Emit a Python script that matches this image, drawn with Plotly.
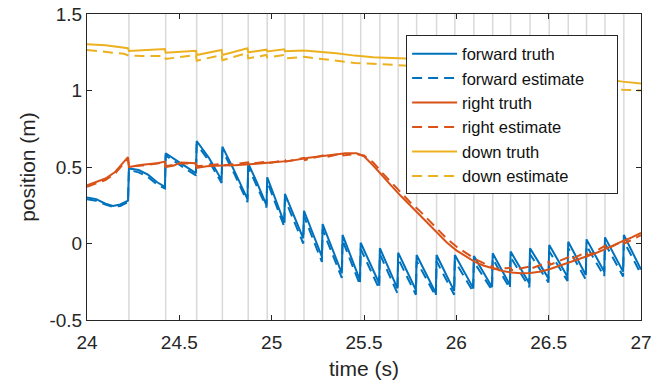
import plotly.graph_objects as go

# measurement update times (gray vertical lines)
meas_times = [24.227, 24.426, 24.594, 24.733, 24.873, 24.976, 25.072, 25.175, 25.276,
              25.384, 25.482, 25.586, 25.685, 25.785, 25.893, 25.992, 26.095, 26.197,
              26.294, 26.399, 26.503, 26.606, 26.705, 26.805, 26.907]

fwd_truth_t = [24.00, 24.05, 24.10, 24.14, 24.18, 24.222, 24.227, 24.28, 24.33, 24.38, 24.422,
               24.426, 24.50, 24.59, 24.594, 24.66, 24.729, 24.733, 24.80, 24.869, 24.873,
               24.92, 24.972, 24.976, 25.068, 25.072, 25.171, 25.175, 25.272, 25.276, 25.380,
               25.384, 25.478, 25.482, 25.582, 25.586, 25.681, 25.685, 25.781, 25.785, 25.889,
               25.893, 25.988, 25.992, 26.091, 26.095, 26.193, 26.197, 26.290, 26.294, 26.395,
               26.399, 26.499, 26.503, 26.602, 26.606, 26.701, 26.705, 26.801, 26.805, 26.903,
               26.907, 27.00]
fwd_truth_v = [0.30, 0.29, 0.26, 0.245, 0.255, 0.28, 0.49, 0.48, 0.45, 0.40, 0.37,
               0.59, 0.53, 0.46, 0.67, 0.56, 0.415, 0.633, 0.47, 0.29, 0.524,
               0.40, 0.25, 0.433, 0.136, 0.324, 0.034, 0.214, -0.086, 0.127, -0.195,
               0.056, -0.239, 0.005, -0.26, -0.031, -0.293, -0.06, -0.304, -0.075, -0.325,
               -0.075, -0.31, -0.075, -0.29, -0.082, -0.285, -0.064, -0.271, -0.053, -0.26,
               -0.031, -0.228, -0.01, -0.217, 0.012, -0.206, 0.027, -0.184, 0.04, -0.184,
               0.056, -0.17]

fwd_est_t = fwd_truth_t
fwd_est_v = [0.29, 0.28, 0.255, 0.24, 0.245, 0.27, 0.48, 0.465, 0.435, 0.385, 0.36,
             0.575, 0.515, 0.445, 0.65, 0.54, 0.395, 0.61, 0.45, 0.27, 0.50,
             0.375, 0.235, 0.405, 0.11, 0.29, 0.0, 0.18, -0.12, 0.09, -0.225,
             0.02, -0.27, -0.035, -0.295, -0.07, -0.325, -0.10, -0.335, -0.115, -0.345,
             -0.115, -0.335, -0.115, -0.315, -0.12, -0.305, -0.10, -0.295, -0.09, -0.285,
             -0.07, -0.255, -0.05, -0.245, -0.03, -0.235, -0.015, -0.215, 0.0, -0.215,
             0.015, -0.20]

right_truth_t = [24.00, 24.05, 24.10, 24.15, 24.19, 24.222, 24.227, 24.30, 24.38, 24.422,
                 24.426, 24.47, 24.51, 24.590, 24.594, 24.65, 24.73, 24.80, 24.90, 25.00,
                 25.10, 25.20, 25.30, 25.40, 25.46, 25.50, 25.55, 25.60, 25.65, 25.70,
                 25.75, 25.80, 25.85, 25.90, 25.95, 26.00, 26.05, 26.10, 26.15, 26.20,
                 26.25, 26.30, 26.35, 26.40, 26.45, 26.50, 26.55, 26.60, 26.65, 26.70,
                 26.75, 26.80, 26.85, 26.90, 26.95, 27.00]
right_truth_v = [0.38, 0.40, 0.425, 0.465, 0.52, 0.565, 0.50, 0.515, 0.525, 0.535,
                 0.50, 0.51, 0.53, 0.525, 0.495, 0.505, 0.51, 0.512, 0.52, 0.53,
                 0.54, 0.56, 0.575, 0.59, 0.59, 0.57, 0.51, 0.44, 0.375, 0.31,
                 0.25, 0.19, 0.13, 0.065, 0.005, -0.045, -0.085, -0.12, -0.145, -0.165,
                 -0.18, -0.19, -0.195, -0.193, -0.185, -0.17, -0.15, -0.13, -0.11, -0.09,
                 -0.065, -0.04, -0.01, 0.015, 0.04, 0.07]

right_est_t = [24.00, 24.05, 24.10, 24.15, 24.19, 24.222, 24.227, 24.30, 24.422, 24.426,
               24.51, 24.590, 24.594, 24.73, 24.733, 24.873, 24.876, 24.976, 24.98, 25.072,
               25.075, 25.175, 25.18, 25.276, 25.28, 25.384, 25.388, 25.46, 25.50, 25.55,
               25.60, 25.65, 25.70, 25.75, 25.80, 25.85, 25.90, 25.95, 26.00, 26.05,
               26.10, 26.15, 26.197, 26.20, 26.25, 26.294, 26.30, 26.399, 26.40, 26.503,
               26.506, 26.606, 26.61, 26.705, 26.71, 26.805, 26.81, 26.907, 26.91, 27.00]
right_est_v = [0.37, 0.39, 0.415, 0.455, 0.51, 0.555, 0.505, 0.51, 0.53, 0.505,
               0.525, 0.52, 0.505, 0.52, 0.51, 0.53, 0.52, 0.535, 0.525, 0.545,
               0.535, 0.56, 0.545, 0.575, 0.56, 0.59, 0.575, 0.585, 0.575, 0.53,
               0.46, 0.395, 0.33, 0.27, 0.215, 0.155, 0.09, 0.03, -0.02, -0.06,
               -0.10, -0.13, -0.15, -0.165, -0.16, -0.16, -0.175, -0.15, -0.165, -0.12,
               -0.14, -0.09, -0.11, -0.055, -0.08, -0.015, -0.04, 0.02, 0.0, 0.055]

down_truth_t = [24.00, 24.10, 24.222, 24.227, 24.422, 24.426, 24.590, 24.594, 24.729, 24.733,
                24.869, 24.873, 24.972, 24.976, 25.068, 25.072, 25.175, 25.25, 25.35, 25.45,
                25.55, 25.65, 25.75, 25.85, 26.00, 26.20, 26.40, 26.60, 26.80, 26.90, 27.00]
down_truth_v = [1.302, 1.295, 1.276, 1.258, 1.271, 1.247, 1.26, 1.232, 1.265, 1.232,
                1.276, 1.25, 1.267, 1.255, 1.269, 1.256, 1.262, 1.255, 1.243, 1.228,
                1.217, 1.212, 1.21, 1.205, 1.19, 1.16, 1.13, 1.10, 1.075, 1.058, 1.046]

down_est_t = [24.00, 24.10, 24.20, 24.227, 24.30, 24.422, 24.426, 24.590, 24.594, 24.729,
              24.733, 24.869, 24.873, 24.972, 24.976, 25.068, 25.072, 25.175, 25.25, 25.35,
              25.45, 25.55, 25.65, 25.75, 25.90, 26.10, 26.30, 26.50, 26.70, 26.90, 27.00]
down_est_v = [1.265, 1.254, 1.24, 1.228, 1.225, 1.225, 1.206, 1.232, 1.195, 1.232,
              1.198, 1.245, 1.21, 1.232, 1.216, 1.232, 1.21, 1.22, 1.21, 1.195,
              1.18, 1.175, 1.167, 1.16, 1.15, 1.12, 1.09, 1.06, 1.035, 1.005, 1.0]

x_ticks = [24, 24.5, 25, 25.5, 26, 26.5, 27]
x_tick_labels = ["24", "24.5", "25", "25.5", "26", "26.5", "27"]
y_ticks = [-0.5, 0, 0.5, 1, 1.5]
y_tick_labels = ["-0.5", "0", "0.5", "1", "1.5"]

BLUE = "#0072BD"
ORANGE = "#D95319"
YELLOW = "#EDB120"
AX = "#262626"
FONT = "Liberation Sans, Arial, sans-serif"
DASH = "10px,6px"
PAD = "\u00a0" * 6

fig = go.Figure()
series = [
    ("forward truth", fwd_truth_t, fwd_truth_v, BLUE, "solid"),
    ("forward estimate" + PAD, fwd_est_t, fwd_est_v, BLUE, DASH),
    ("right truth", right_truth_t, right_truth_v, ORANGE, "solid"),
    ("right estimate", right_est_t, right_est_v, ORANGE, DASH),
    ("down truth", down_truth_t, down_truth_v, YELLOW, "solid"),
    ("down estimate", down_est_t, down_est_v, YELLOW, DASH),
]
for name, t, v, c, d in series:
    fig.add_trace(go.Scatter(x=t, y=v, mode="lines", name=name,
                             line=dict(color=c, width=2, dash=d)))

for tm in meas_times:
    fig.add_shape(type="line", xref="x", yref="paper", x0=tm, x1=tm, y0=0, y1=1,
                  line=dict(color="#d9d9d9", width=1.5), layer="below")

fig.update_layout(
    width=665, height=385,
    margin=dict(l=87, r=24, t=14, b=65, autoexpand=False),
    paper_bgcolor="white", plot_bgcolor="white",
    font=dict(family=FONT, size=19, color=AX),
    showlegend=True,
    legend=dict(x=0.576, y=0.93, xanchor="left", yanchor="top",
                bgcolor="white", bordercolor=AX, borderwidth=1,
                font=dict(family=FONT, size=16.5, color="#111111"), itemwidth=45,
                tracegroupgap=0),
    xaxis=dict(range=[24, 27], tickvals=x_ticks, ticktext=x_tick_labels,
               showline=True, linecolor=AX, linewidth=1, mirror="ticks",
               ticks="inside", ticklen=5, tickcolor=AX, showgrid=False, zeroline=False,
               automargin=False, ticklabelstandoff=5,
               title=dict(text="time (s)", font=dict(size=21), standoff=9)),
    yaxis=dict(range=[-0.5, 1.5], tickvals=y_ticks, ticktext=y_tick_labels,
               showline=True, linecolor=AX, linewidth=1, mirror="ticks",
               ticks="inside", ticklen=5, tickcolor=AX, showgrid=False, zeroline=False,
               automargin=False,
               title=dict(text="position (m)", font=dict(size=21), standoff=8)),
)

fig.write_html("out.html", config={"displayModeBar": False},
               post_script="document.body.style.margin='0';")
